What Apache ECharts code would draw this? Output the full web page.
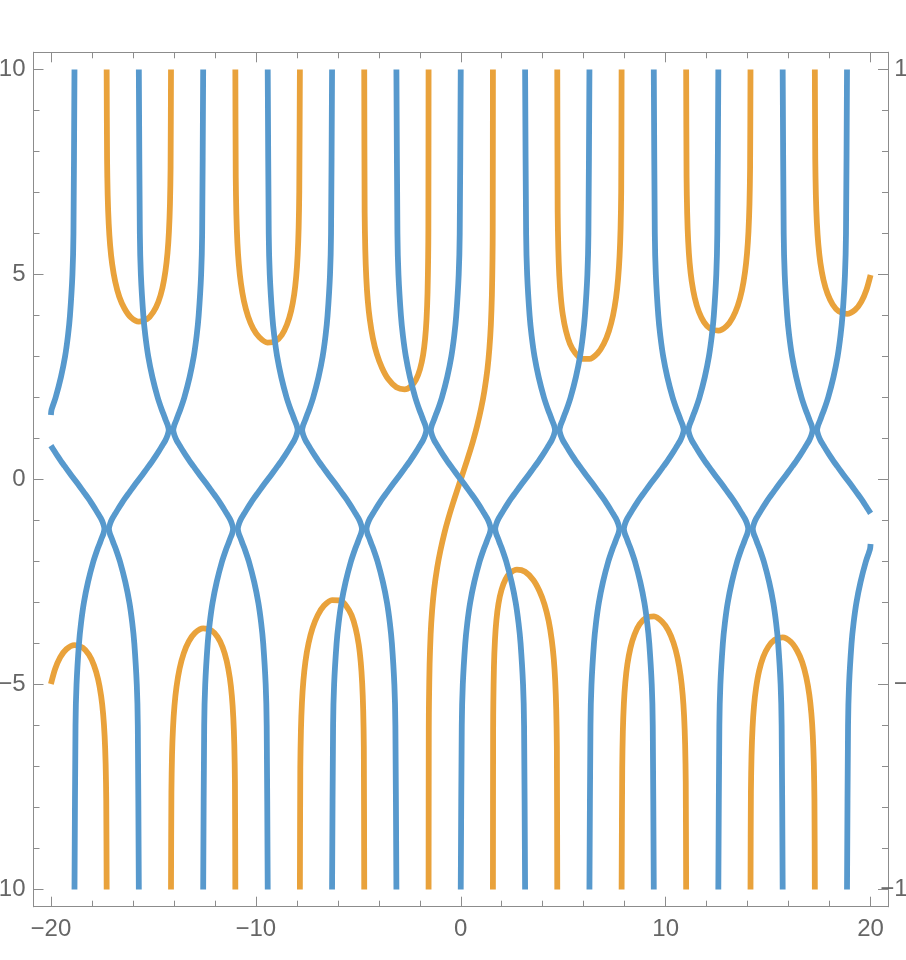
<!DOCTYPE html>
<html>
<head>
<meta charset="utf-8">
<script src="https://cdn.jsdelivr.net/npm/echarts@6/dist/echarts.min.js"></script>
<style>
html,body{margin:0;padding:0;background:#fff;}
#chart{width:906px;height:960px;}
</style>
</head>
<body>
<div id="chart"></div>
<script>
// ---- tick values ----
const xMajorTicks = [-20, -10, 0, 10, 20];
const xMinorTicks = [-18, -16, -14, -12, -8, -6, -4, -2, 2, 4, 6, 8, 12, 14, 16, 18];
const yMajorTicks = [-10, -5, 0, 5, 10];
const yMinorTicks = [-9, -8, -7, -6, -4, -3, -2, -1, 1, 2, 3, 4, 6, 7, 8, 9];

// ---- blue contours: shared y samples, one x list per curve (null = outside plot range) ----
const blueY = [10, 6, 5, 4, 3.5, 3, 2.5, 2, 1.7, 1.575, 1.45, 1.325, 1.2, 1.075, 0.95, 0.825, 0.7, 0.575, 0.45, 0.325, 0.2, 0,
  -0.2, -0.325, -0.45, -0.575, -0.7, -0.825, -0.95, -1.075, -1.2, -1.325, -1.45, -1.575, -1.7, -2, -2.5, -3, -3.5, -4, -5, -6, -10];

const blueM6 = [-18.85, -18.90, -18.95, -19.07, -19.17, -19.31, -19.51, -19.77, -19.97, -20, null, null, null, null, null, -20, -19.84, -19.68, -19.51, -19.33, -19.15, -18.85,
  -18.55, -18.37, -18.19, -18.02, -17.86, -17.71, -17.56, -17.45, -17.39, -17.44, -17.54, -17.63, -17.73, -17.93, -18.19, -18.39, -18.53, -18.63, -18.75, -18.80, -18.85];
const blueM5 = [-15.71, -15.66, -15.61, -15.49, -15.39, -15.25, -15.05, -14.79, -14.59, -14.49, -14.40, -14.30, -14.25, -14.31, -14.42, -14.57, -14.72, -14.88, -15.05, -15.23, -15.41, -15.71,
  -16.01, -16.19, -16.37, -16.54, -16.70, -16.85, -17.00, -17.11, -17.17, -17.12, -17.02, -16.93, -16.83, -16.63, -16.37, -16.17, -16.03, -15.93, -15.81, -15.76, -15.71];
const blueM4 = [-12.57, -12.62, -12.67, -12.79, -12.89, -13.03, -13.23, -13.49, -13.69, -13.79, -13.88, -13.98, -14.03, -13.97, -13.86, -13.71, -13.56, -13.40, -13.23, -13.05, -12.87, -12.57,
  -12.27, -12.09, -11.91, -11.74, -11.58, -11.43, -11.28, -11.17, -11.11, -11.16, -11.26, -11.35, -11.45, -11.65, -11.91, -12.11, -12.25, -12.35, -12.47, -12.52, -12.57];
const blueM3 = [-9.42, -9.37, -9.32, -9.20, -9.10, -8.96, -8.76, -8.50, -8.30, -8.20, -8.11, -8.01, -7.96, -8.02, -8.13, -8.28, -8.43, -8.59, -8.76, -8.94, -9.12, -9.42,
  -9.72, -9.90, -10.08, -10.25, -10.41, -10.56, -10.71, -10.82, -10.88, -10.83, -10.73, -10.64, -10.54, -10.34, -10.08, -9.88, -9.74, -9.64, -9.52, -9.47, -9.42];
const blueM2 = [-6.28, -6.33, -6.38, -6.50, -6.60, -6.74, -6.94, -7.20, -7.40, -7.50, -7.59, -7.69, -7.74, -7.68, -7.57, -7.42, -7.27, -7.11, -6.94, -6.76, -6.58, -6.28,
  -5.98, -5.80, -5.62, -5.45, -5.29, -5.14, -4.99, -4.88, -4.82, -4.87, -4.97, -5.06, -5.16, -5.36, -5.62, -5.82, -5.96, -6.06, -6.18, -6.23, -6.28];
const blueM1 = [-3.14, -3.09, -3.04, -2.92, -2.82, -2.68, -2.48, -2.22, -2.02, -1.92, -1.83, -1.73, -1.68, -1.74, -1.85, -2.00, -2.15, -2.31, -2.48, -2.66, -2.84, -3.14,
  -3.44, -3.62, -3.80, -3.97, -4.13, -4.28, -4.43, -4.54, -4.60, -4.55, -4.45, -4.36, -4.26, -4.06, -3.80, -3.60, -3.46, -3.36, -3.24, -3.19, -3.14];
const blue0 = [0, -0.05, -0.10, -0.22, -0.32, -0.46, -0.66, -0.92, -1.12, -1.22, -1.31, -1.41, -1.46, -1.40, -1.29, -1.14, -0.99, -0.83, -0.66, -0.48, -0.30, 0,
  0.30, 0.48, 0.66, 0.83, 0.99, 1.14, 1.29, 1.40, 1.46, 1.41, 1.31, 1.22, 1.12, 0.92, 0.66, 0.46, 0.32, 0.22, 0.10, 0.05, 0];
const blueP1 = [3.14, 3.19, 3.24, 3.36, 3.46, 3.60, 3.80, 4.06, 4.26, 4.36, 4.45, 4.55, 4.60, 4.54, 4.43, 4.28, 4.13, 3.97, 3.80, 3.62, 3.44, 3.14,
  2.84, 2.66, 2.48, 2.31, 2.15, 2.00, 1.85, 1.74, 1.68, 1.73, 1.83, 1.92, 2.02, 2.22, 2.48, 2.68, 2.82, 2.92, 3.04, 3.09, 3.14];
const blueP2 = [6.28, 6.23, 6.18, 6.06, 5.96, 5.82, 5.62, 5.36, 5.16, 5.06, 4.97, 4.87, 4.82, 4.88, 4.99, 5.14, 5.29, 5.45, 5.62, 5.80, 5.98, 6.28,
  6.58, 6.76, 6.94, 7.11, 7.27, 7.42, 7.57, 7.68, 7.74, 7.69, 7.59, 7.50, 7.40, 7.20, 6.94, 6.74, 6.60, 6.50, 6.38, 6.33, 6.28];
const blueP3 = [9.42, 9.47, 9.52, 9.64, 9.74, 9.88, 10.08, 10.34, 10.54, 10.64, 10.73, 10.83, 10.88, 10.82, 10.71, 10.56, 10.41, 10.25, 10.08, 9.90, 9.72, 9.42,
  9.12, 8.94, 8.76, 8.59, 8.43, 8.28, 8.13, 8.02, 7.96, 8.01, 8.11, 8.20, 8.30, 8.50, 8.76, 8.96, 9.10, 9.20, 9.32, 9.37, 9.42];
const blueP4 = [12.57, 12.52, 12.47, 12.35, 12.25, 12.11, 11.91, 11.65, 11.45, 11.35, 11.26, 11.16, 11.11, 11.17, 11.28, 11.43, 11.58, 11.74, 11.91, 12.09, 12.27, 12.57,
  12.87, 13.05, 13.23, 13.40, 13.56, 13.71, 13.86, 13.97, 14.03, 13.98, 13.88, 13.79, 13.69, 13.49, 13.23, 13.03, 12.89, 12.79, 12.67, 12.62, 12.57];
const blueP5 = [15.71, 15.76, 15.81, 15.93, 16.03, 16.17, 16.37, 16.63, 16.83, 16.93, 17.02, 17.12, 17.17, 17.11, 17.00, 16.85, 16.70, 16.54, 16.37, 16.19, 16.01, 15.71,
  15.41, 15.23, 15.05, 14.88, 14.72, 14.57, 14.42, 14.31, 14.25, 14.30, 14.40, 14.49, 14.59, 14.79, 15.05, 15.25, 15.39, 15.49, 15.61, 15.66, 15.71];
const blueP6 = [18.85, 18.80, 18.75, 18.63, 18.53, 18.39, 18.19, 17.93, 17.73, 17.63, 17.54, 17.44, 17.39, 17.45, 17.56, 17.71, 17.86, 18.02, 18.19, 18.37, 18.55, 18.85,
  19.15, 19.33, 19.51, 19.68, 19.84, 20, null, null, null, null, null, 20, 19.97, 19.77, 19.51, 19.31, 19.17, 19.07, 18.95, 18.90, 18.85];

const blueCurvesX = [blueM6, blueM5, blueM4, blueM3, blueM2, blueM1, blue0, blueP1, blueP2, blueP3, blueP4, blueP5, blueP6];

// ---- orange contours: [x, y] points per curve ----
const orangeM6 = [[-20, -4.99], [-19.80, -4.63], [-19.55, -4.34], [-19.25, -4.14], [-18.85, -4.04], [-18.45, -4.10], [-18.15, -4.27], [-17.90, -4.53], [-17.70, -4.87], [-17.55, -5.28], [-17.45, -5.73], [-17.38, -6.25], [-17.33, -6.93], [-17.30, -7.82], [-17.28, -10]];
const orangeM5 = [[-17.28, 10], [-17.26, 7.82], [-17.23, 6.93], [-17.18, 6.24], [-17.11, 5.71], [-17.01, 5.25], [-16.86, 4.82], [-16.66, 4.45], [-16.41, 4.17], [-16.11, 3.96], [-15.71, 3.85], [-15.31, 3.91], [-15.01, 4.08], [-14.76, 4.33], [-14.56, 4.67], [-14.41, 5.09], [-14.31, 5.53], [-14.24, 6.05], [-14.19, 6.73], [-14.16, 7.62], [-14.14, 10]];
const orangeM4 = [[-14.14, -10], [-14.12, -7.62], [-14.09, -6.72], [-14.04, -6.04], [-13.97, -5.51], [-13.87, -5.05], [-13.72, -4.61], [-13.52, -4.24], [-13.27, -3.95], [-12.97, -3.74], [-12.57, -3.63], [-12.17, -3.68], [-11.87, -3.84], [-11.62, -4.09], [-11.42, -4.43], [-11.27, -4.84], [-11.17, -5.28], [-11.10, -5.80], [-11.05, -6.48], [-11.02, -7.37], [-11.00, -10]];
const orangeM3 = [[-11.00, 10], [-10.98, 7.37], [-10.95, 6.47], [-10.90, 5.78], [-10.83, 5.25], [-10.73, 4.79], [-10.58, 4.35], [-10.38, 3.98], [-10.13, 3.68], [-9.83, 3.47], [-9.43, 3.34], [-9.03, 3.38], [-8.73, 3.53], [-8.48, 3.78], [-8.28, 4.11], [-8.13, 4.51], [-8.03, 4.95], [-7.96, 5.47], [-7.91, 6.15], [-7.88, 7.04], [-7.85, 10]];
const orangeM2 = [[-7.85, -10], [-7.83, -7.03], [-7.80, -6.13], [-7.75, -5.44], [-7.68, -4.91], [-7.58, -4.44], [-7.43, -4.00], [-7.23, -3.62], [-6.98, -3.31], [-6.68, -3.08], [-6.28, -2.94], [-5.88, -2.95], [-5.58, -3.09], [-5.33, -3.31], [-5.13, -3.63], [-4.98, -4.02], [-4.88, -4.46], [-4.81, -4.97], [-4.76, -5.64], [-4.73, -6.53], [-4.71, -10]];
const orangeM1 = [[-4.71, 10], [-4.69, 6.52], [-4.66, 5.62], [-4.61, 4.92], [-4.54, 4.38], [-4.44, 3.91], [-4.29, 3.45], [-4.09, 3.05], [-3.84, 2.72], [-3.54, 2.45], [-3.14, 2.25], [-2.74, 2.20], [-2.44, 2.27], [-2.19, 2.43], [-1.99, 2.69], [-1.84, 3.03], [-1.74, 3.43], [-1.67, 3.91], [-1.62, 4.56], [-1.59, 5.44], [-1.58, 6.09], [-1.57, 10]];
const orange0 = [[-1.57, -10], [-1.56, -6.07], [-1.55, -5.41], [-1.52, -4.50], [-1.47, -3.78], [-1.40, -3.21], [-1.30, -2.68], [-1.15, -2.15], [-1.00, -1.75], [-0.80, -1.31], [-0.60, -0.94], [-0.40, -0.61], [-0.20, -0.30], [0, 0], [0.20, 0.30], [0.40, 0.61], [0.60, 0.94], [0.80, 1.31], [1.00, 1.75], [1.15, 2.15], [1.30, 2.68], [1.40, 3.21], [1.47, 3.78], [1.52, 4.50], [1.55, 5.41], [1.56, 6.07], [1.57, 10]];
const orangeP1 = [[1.57, -10], [1.58, -6.09], [1.59, -5.44], [1.62, -4.56], [1.67, -3.91], [1.74, -3.43], [1.84, -3.03], [1.99, -2.69], [2.19, -2.43], [2.44, -2.27], [2.74, -2.20], [3.14, -2.25], [3.54, -2.45], [3.84, -2.72], [4.09, -3.05], [4.29, -3.45], [4.44, -3.91], [4.54, -4.38], [4.61, -4.92], [4.66, -5.62], [4.69, -6.52], [4.71, -10]];
const orangeP2 = [[4.71, 10], [4.73, 6.53], [4.76, 5.64], [4.81, 4.97], [4.88, 4.46], [4.98, 4.02], [5.13, 3.63], [5.33, 3.31], [5.58, 3.09], [5.88, 2.95], [6.28, 2.94], [6.68, 3.08], [6.98, 3.31], [7.23, 3.62], [7.43, 4.00], [7.58, 4.44], [7.68, 4.91], [7.75, 5.44], [7.80, 6.13], [7.83, 7.03], [7.85, 10]];
const orangeP3 = [[7.85, -10], [7.88, -7.04], [7.91, -6.15], [7.96, -5.47], [8.03, -4.95], [8.13, -4.51], [8.28, -4.11], [8.48, -3.78], [8.73, -3.53], [9.03, -3.38], [9.43, -3.34], [9.83, -3.47], [10.13, -3.68], [10.38, -3.98], [10.58, -4.35], [10.73, -4.79], [10.83, -5.25], [10.90, -5.78], [10.95, -6.47], [10.98, -7.37], [11.00, -10]];
const orangeP4 = [[11.00, 10], [11.02, 7.37], [11.05, 6.48], [11.10, 5.80], [11.17, 5.28], [11.27, 4.84], [11.42, 4.43], [11.62, 4.09], [11.87, 3.84], [12.17, 3.68], [12.57, 3.63], [12.97, 3.74], [13.27, 3.95], [13.52, 4.24], [13.72, 4.61], [13.87, 5.05], [13.97, 5.51], [14.04, 6.04], [14.09, 6.72], [14.12, 7.62], [14.14, 10]];
const orangeP5 = [[14.14, -10], [14.16, -7.62], [14.19, -6.73], [14.24, -6.05], [14.31, -5.53], [14.41, -5.09], [14.56, -4.67], [14.76, -4.33], [15.01, -4.08], [15.31, -3.91], [15.71, -3.85], [16.11, -3.96], [16.41, -4.17], [16.66, -4.45], [16.86, -4.82], [17.01, -5.25], [17.11, -5.71], [17.18, -6.24], [17.23, -6.93], [17.26, -7.82], [17.28, -10]];
const orangeP6 = [[17.28, 10], [17.30, 7.82], [17.33, 6.93], [17.38, 6.25], [17.45, 5.73], [17.55, 5.28], [17.70, 4.87], [17.90, 4.53], [18.15, 4.27], [18.45, 4.10], [18.85, 4.04], [19.25, 4.14], [19.55, 4.34], [19.80, 4.63], [20, 4.99]];

const orangeCurves = [orangeM6, orangeM5, orangeM4, orangeM3, orangeM2, orangeM1, orange0, orangeP1, orangeP2, orangeP3, orangeP4, orangeP5, orangeP6];

// ---- build series ----
const BLUE = '#5799cd';
const ORANGE = '#e9a23b';
const LW = 5.8;

function splitSegments(xs, ys) {
  const segs = [];
  let cur = [];
  for (let i = 0; i < xs.length; i++) {
    if (xs[i] === null) {
      if (cur.length) segs.push(cur);
      cur = [];
    } else {
      cur.push([xs[i], ys[i]]);
    }
  }
  if (cur.length) segs.push(cur);
  return segs;
}

function lineSeries(data, color, z) {
  return {
    type: 'line', data: data, xAxisIndex: 0, yAxisIndex: 0,
    showSymbol: false, symbol: 'none', silent: true, z: z,
    smooth: 0.25,
    lineStyle: { color: color, width: LW, cap: 'butt', join: 'round' },
    animation: false
  };
}

const series = [];
orangeCurves.forEach(c => series.push(lineSeries(c, ORANGE, 2)));
blueCurvesX.forEach(xs => splitSegments(xs, blueY).forEach(s => series.push(lineSeries(s, BLUE, 3))));

const AX = '#8c8c8c';
const LBL = '#666666';
const FONT = 'Liberation Sans, Arial, sans-serif';
const fmt = v => String(v).replace('-', '\u2212');

function xAx(pos, ticks, len, labels) {
  return {
    type: 'value', min: -20.85, max: 20.85, position: pos,
    axisLine: { show: true, onZero: false, lineStyle: { color: AX, width: 1 } },
    axisTick: { show: true, inside: true, length: len, customValues: ticks, lineStyle: { color: AX, width: 1 } },
    axisLabel: { show: labels, customValues: ticks, formatter: fmt, fontSize: 24, color: LBL, fontFamily: FONT, margin: 11 },
    splitLine: { show: false }
  };
}
function yAx(pos, ticks, len, labels, align, margin) {
  return {
    type: 'value', min: -10.42, max: 10.42, position: pos,
    axisLine: { show: true, onZero: false, lineStyle: { color: AX, width: 1 } },
    axisTick: { show: true, inside: true, length: len, customValues: ticks, lineStyle: { color: AX, width: 1 } },
    axisLabel: { show: labels, customValues: ticks, formatter: fmt, fontSize: 24, color: LBL, fontFamily: FONT, margin: margin, align: align, verticalAlign: 'middle' },
    splitLine: { show: false }
  };
}

const option = {
  backgroundColor: '#ffffff',
  animation: false,
  grid: { left: 33.5, right: 18, top: 52.3, bottom: 53.3, containLabel: false, outerBoundsMode: 'none' },
  xAxis: [
    xAx('bottom', xMajorTicks, 10, true),
    xAx('bottom', xMinorTicks, 6, false),
    xAx('top', xMajorTicks, 10, false),
    xAx('top', xMinorTicks, 6, false)
  ],
  yAxis: [
    yAx('left', yMajorTicks, 10, true, 'right', 8),
    yAx('left', yMinorTicks, 6, false, 'right', 8),
    yAx('right', yMajorTicks, 10, true, 'right', 33),
    yAx('right', yMinorTicks, 6, false, 'right', 33)
  ],
  series: series
};

const chart = echarts.init(document.getElementById('chart'), null, { renderer: 'canvas' });
chart.setOption(option);
</script>
</body>
</html>
